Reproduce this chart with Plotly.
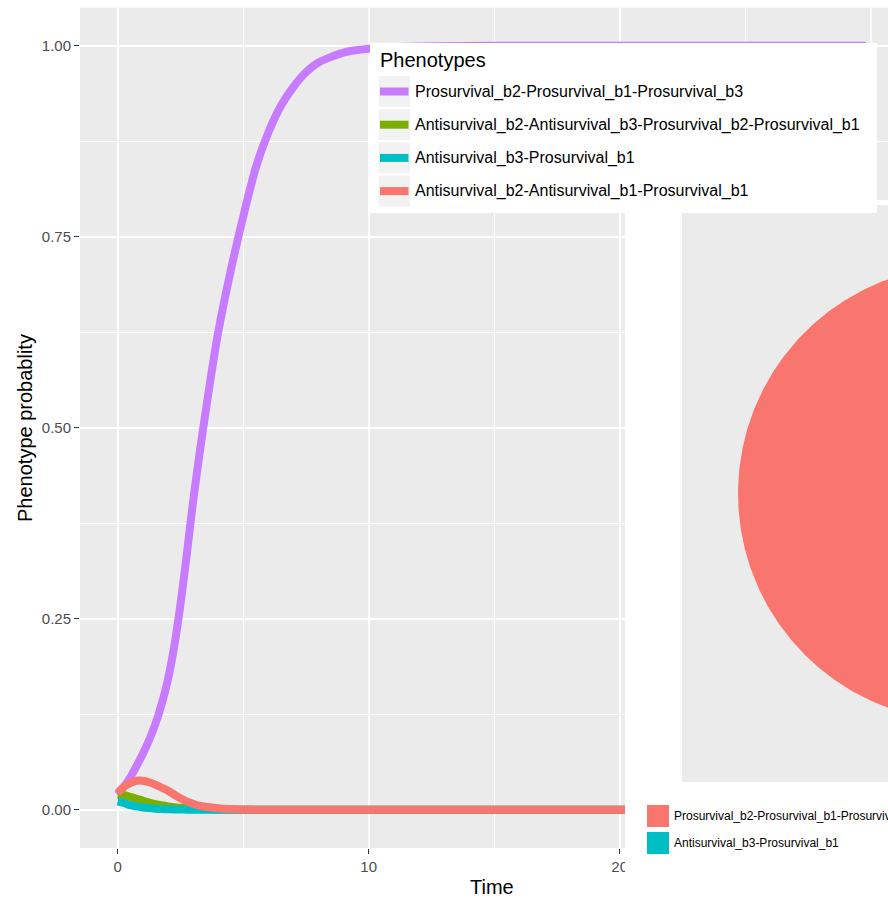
import numpy as np
import plotly.graph_objects as go

# ---------------- data ----------------
times = [0, 0.25, 0.5, 0.75, 1, 1.25, 1.5, 1.75, 2, 2.25, 2.5, 2.75, 3, 3.25, 3.5, 3.75,
         4, 4.5, 5, 5.5, 6, 6.5, 7, 7.5, 8, 9, 10, 12, 15, 20, 25, 29.8]

series_names = [
    "Prosurvival_b2-Prosurvival_b1-Prosurvival_b3",
    "Antisurvival_b2-Antisurvival_b3-Prosurvival_b2-Prosurvival_b1",
    "Antisurvival_b3-Prosurvival_b1",
    "Antisurvival_b2-Antisurvival_b1-Prosurvival_b1",
]
series_colors = ["#C77CFF", "#7CAE00", "#00BFC4", "#F8766D"]

pro_b2_b1_b3 = [0.020, 0.030, 0.042, 0.057, 0.073, 0.091, 0.112, 0.138, 0.170, 0.213, 0.268,
                0.333, 0.402, 0.463, 0.520, 0.574, 0.624, 0.705, 0.776, 0.840, 0.886, 0.921,
                0.946, 0.965, 0.978, 0.991, 0.996, 0.999, 1.0, 1.0, 1.0, 1.0]
anti_b2_b3_pro_b2_b1 = [0.020, 0.019, 0.017, 0.0145, 0.012, 0.0095, 0.0075, 0.006, 0.0045,
                        0.0035, 0.0027, 0.002, 0.0015, 0.0011, 0.0008, 0.0006, 0.0004, 0.0002,
                        0.0001, 0, 0, 0, 0, 0, 0, 0, 0, 0, 0, 0, 0, 0]
anti_b3_pro_b1 = [0.011, 0.009, 0.006, 0.0045, 0.003, 0.0022, 0.0015, 0.001, 0.0007, 0.0005,
                  0.0003, 0.0002, 0.0001, 0, 0, 0, 0, 0, 0, 0, 0, 0, 0, 0, 0, 0, 0, 0, 0, 0, 0, 0]
anti_b2_b1_pro_b1 = [0.022, 0.030, 0.035, 0.038, 0.038, 0.036, 0.033, 0.029, 0.025, 0.020,
                     0.015, 0.011, 0.008, 0.0055, 0.004, 0.003, 0.002, 0.001, 0.0005, 0.0002,
                     0.0001, 0, 0, 0, 0, 0, 0, 0, 0, 0, 0, 0]
series_values = [pro_b2_b1_b3, anti_b2_b3_pro_b2_b1, anti_b3_pro_b1, anti_b2_b1_pro_b1]

x_tickvals = [0, 10, 20, 30]
x_ticktext = ["0", "10", "20", "30"]
x_minor = [5, 15, 25]
y_tickvals = [0, 0.25, 0.5, 0.75, 1.0]
y_ticktext = ["0.00", "0.25", "0.50", "0.75", "1.00"]
y_minor = [0.125, 0.375, 0.625, 0.875]

pie_labels = ["Prosurvival_b2-Prosurvival_b1-Prosurvival_b3", "Antisurvival_b3-Prosurvival_b1"]
pie_values = [0.99, 0.01]
pie_colors = ["#F8766D", "#00BFC4"]

# ---------------- layout helpers (pixels -> paper) ----------------
W, H = 888, 900
FONT = "Liberation Sans, Arial, sans-serif"


def px(x):
    return x / W


def py(y):
    return 1 - y / H


X_RANGE = [-1.5, 30.69]
Y_RANGE = [-0.05, 1.05]

# pie panel geometry
PIE_L, PIE_R, PIE_T, PIE_B = 682, 888, 205, 782
PIE_CX, PIE_CY, PIE_RAD = 966, 493.5, 228
X3_RANGE = [(PIE_L - PIE_CX) / PIE_RAD, (PIE_R - PIE_CX) / PIE_RAD]
Y3_RANGE = [(PIE_CY - PIE_B) / PIE_RAD, (PIE_CY - PIE_T) / PIE_RAD]

fig = go.Figure()

# main line traces
for name, vals, col in zip(series_names, series_values, series_colors):
    fig.add_trace(go.Scatter(
        x=times, y=vals, mode="lines", name=name,
        line=dict(color=col, width=8, shape="spline", smoothing=0.7),
        xaxis="x", yaxis="y", hoverinfo="x+y+name"))

# overlay subplot (white panel over the right-lower area)
fig.add_trace(go.Scatter(x=[], y=[], xaxis="x2", yaxis="y2", hoverinfo="skip"))

# pie wedges (coord_polar style: start at 12 o'clock, clockwise)
total = float(sum(pie_values))
cum = 0.0
for lab, v, col in zip(pie_labels, pie_values, pie_colors):
    a0 = cum / total * 2 * np.pi
    a1 = (cum + v) / total * 2 * np.pi
    th = np.linspace(a0, a1, max(int(720 * v / total), 4))
    xs = np.concatenate([[0], np.sin(th), [0]])
    ys = np.concatenate([[0], np.cos(th), [0]])
    fig.add_trace(go.Scatter(x=xs, y=ys, mode="lines", fill="toself", fillcolor=col,
                             line=dict(width=0, color=col), name=lab,
                             xaxis="x3", yaxis="y3", hoverinfo="name"))
    cum += v

axis_common = dict(showline=False, zeroline=False, ticks="outside", ticklen=5,
                   tickwidth=1.2, tickcolor="#333333",
                   tickfont=dict(family=FONT, size=15, color="#4D4D4D"),
                   showgrid=True, gridcolor="white", gridwidth=2)

fig.update_layout(
    width=W, height=H,
    margin=dict(l=0, r=0, t=0, b=0),
    paper_bgcolor="white", plot_bgcolor="white",
    showlegend=False,
    xaxis=dict(domain=[px(80), 1], range=X_RANGE, tickvals=x_tickvals, ticktext=x_ticktext,
               minor=dict(tickvals=x_minor, showgrid=True, gridcolor="white", gridwidth=1),
               anchor="y", **axis_common),
    yaxis=dict(domain=[py(848), py(7.5)], range=Y_RANGE, tickvals=y_tickvals,
               ticktext=y_ticktext,
               minor=dict(tickvals=y_minor, showgrid=True, gridcolor="white", gridwidth=1),
               anchor="x", **axis_common),
    xaxis2=dict(domain=[px(625), 1], range=[0, 1], visible=False, anchor="y2"),
    yaxis2=dict(domain=[0, py(200)], range=[0, 1], visible=False, anchor="x2"),
    xaxis3=dict(domain=[px(PIE_L), 1], range=X3_RANGE, visible=False, anchor="y3"),
    yaxis3=dict(domain=[py(PIE_B), py(PIE_T)], range=Y3_RANGE, visible=False, anchor="x3"),
)

shapes = [
    # main panel background
    dict(type="rect", xref="x", yref="y", x0=X_RANGE[0], x1=X_RANGE[1], y0=Y_RANGE[0],
         y1=Y_RANGE[1], fillcolor="#EBEBEB", line=dict(width=0), layer="below"),
    # pie panel background
    dict(type="rect", xref="x3", yref="y3", x0=X3_RANGE[0], x1=X3_RANGE[1], y0=Y3_RANGE[0],
         y1=Y3_RANGE[1], fillcolor="#EBEBEB", line=dict(width=0), layer="below"),
    # legend box
    dict(type="rect", xref="paper", yref="paper", x0=px(370), x1=px(877), y0=py(213),
         y1=py(43), fillcolor="white", line=dict(width=0), layer="above"),
]
annotations = []

# legend of line chart
annotations.append(dict(text="Phenotypes", xref="paper", yref="paper", x=px(378), y=py(60),
                        xanchor="left", yanchor="middle", showarrow=False,
                        font=dict(family=FONT, size=20, color="black")))
for i, (name, col) in enumerate(zip(series_names, series_colors)):
    cy = 91.5 + i * 33.2
    shapes.append(dict(type="rect", xref="paper", yref="paper", x0=px(378.5), x1=px(410),
                       y0=py(cy + 15.5), y1=py(cy - 15.5), fillcolor="#F2F2F2",
                       line=dict(width=0), layer="above"))
    shapes.append(dict(type="rect", xref="paper", yref="paper", x0=px(380), x1=px(408.5),
                       y0=py(cy + 4), y1=py(cy - 4), fillcolor=col,
                       line=dict(width=0), layer="above"))
    annotations.append(dict(text=name, xref="paper", yref="paper", x=px(413), y=py(cy),
                            xanchor="left", yanchor="middle", showarrow=False,
                            font=dict(family=FONT, size=16, color="black")))

# legend of pie
for i, (lab, col) in enumerate(zip(pie_labels, pie_colors)):
    cy = 816 + i * 27
    shapes.append(dict(type="rect", xref="paper", yref="paper", x0=px(647), x1=px(669),
                       y0=py(cy + 11), y1=py(cy - 11), fillcolor=col,
                       line=dict(width=0), layer="above"))
    annotations.append(dict(text=lab, xref="paper", yref="paper", x=px(672), y=py(cy),
                            xanchor="left", yanchor="middle", showarrow=False,
                            font=dict(family=FONT, size=12, color="black")))

# axis titles
annotations.append(dict(text="Time", xref="paper", yref="paper", x=px(492), y=py(887),
                        xanchor="center", yanchor="middle", showarrow=False,
                        font=dict(family=FONT, size=20, color="black")))
annotations.append(dict(text="Phenotype probablity", xref="paper", yref="paper", x=px(25),
                        y=py(428), xanchor="center", yanchor="middle", showarrow=False,
                        textangle=-90, font=dict(family=FONT, size=20, color="black")))

fig.update_layout(shapes=shapes, annotations=annotations)

fig.write_html(
    "out.html",
    config={"displayModeBar": False},
    post_script="document.body.style.margin='0';document.body.style.padding='0';"
                "document.documentElement.style.overflow='hidden';",
)
